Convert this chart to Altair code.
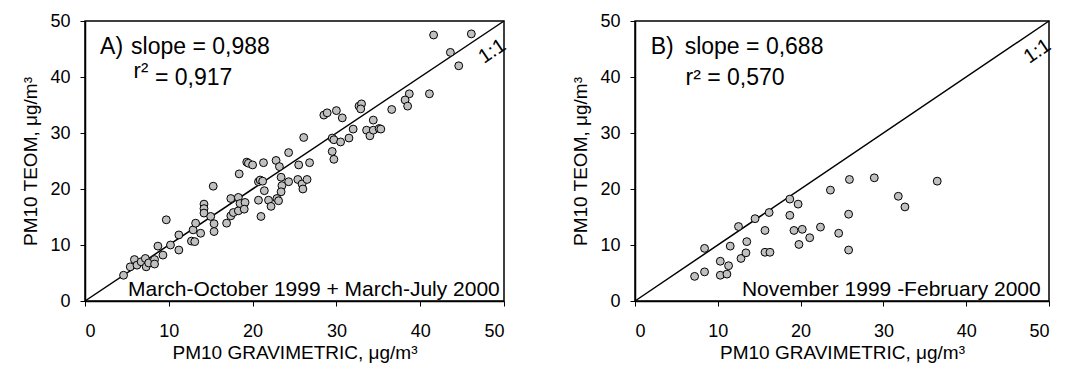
import altair as alt
import pandas as pd

# Panel A: March-October 1999 + March-July 2000
a_x = [4.6, 5.4, 5.9, 6.2, 6.7, 7.2, 7.3, 7.6, 8.3, 8.3, 8.7, 9.3, 9.7, 10.2, 11.2, 11.2,
       12.7, 13.1, 12.9, 13.2, 13.8, 14.2, 14.2, 14.2, 15.0, 15.4, 15.4, 15.3, 16.9, 17.4,
       17.4, 17.7, 18.3, 18.3, 18.4, 18.5, 19.1, 19.0, 19.3, 19.5, 20.0, 21.3, 22.8, 23.2,
       24.3, 26.1, 25.5, 26.8, 20.7, 20.9, 21.2, 21.4, 23.4, 23.5, 23.4, 24.3, 25.4, 25.9,
       26.0, 26.5, 20.7, 21.0, 21.9, 22.2, 22.9, 23.1,
       28.5, 28.9, 30.0, 30.7, 32.7, 33.0, 32.9, 29.5, 29.7, 30.5, 31.5, 32.0, 29.5, 29.7,
       33.6, 34.0, 34.4, 34.4, 35.1, 41.6, 46.1, 43.6, 44.6, 41.1, 38.7, 38.2, 38.5, 36.6, 35.3]
a_y = [4.6, 6.1, 7.4, 6.4, 7.0, 7.6, 6.1, 6.8, 7.4, 6.6, 9.8, 8.2, 14.5, 10.0, 9.1, 11.8,
       10.7, 10.6, 12.7, 13.9, 12.1, 17.3, 16.5, 15.7, 15.1, 13.8, 12.4, 20.5, 13.9, 15.2,
       18.3, 15.8, 16.1, 18.5, 22.7, 17.4, 17.6, 16.4, 24.8, 24.6, 24.3, 24.7, 25.1, 24.0,
       26.5, 29.2, 24.3, 24.7, 21.3, 21.6, 21.4, 19.7, 22.1, 20.6, 19.5, 21.3, 21.7, 20.9,
       20.0, 21.7, 18.0, 15.1, 18.0, 16.9, 18.3, 17.9,
       33.2, 33.6, 34.0, 32.7, 34.8, 35.2, 34.3, 29.1, 28.8, 28.4, 29.1, 30.7, 26.7, 25.3,
       30.5, 29.5, 30.5, 32.3, 30.8, 47.5, 47.7, 44.4, 42.0, 37.0, 37.0, 35.9, 34.8, 34.2, 30.7]

# Panel B: November 1999 - February 2000
b_x = [7.2, 8.4, 8.4, 10.3, 11.1, 10.3, 11.3, 11.5, 12.5, 12.8, 13.4, 13.5, 14.5, 15.7, 15.7,
       16.3, 16.2, 18.7, 18.7, 19.7, 19.2, 20.2, 19.8, 21.1, 22.4, 23.6, 24.6, 25.9, 25.8,
       25.8, 28.9, 31.8, 32.6, 36.5]
b_y = [4.4, 5.2, 9.4, 4.6, 4.8, 7.1, 6.3, 9.8, 13.3, 7.6, 8.6, 10.6, 14.7, 12.6, 8.7,
       8.7, 15.8, 18.2, 15.3, 17.3, 12.6, 12.8, 10.1, 11.3, 13.2, 19.8, 12.1, 21.7, 15.5,
       9.1, 22.0, 18.7, 16.8, 21.4]

ref_line = [0, 50]
ticks = [0, 10, 20, 30, 40, 50]

FONT = "Liberation Sans"
X_TITLE = "PM10 GRAVIMETRIC, μg/m³"
Y_TITLE = "PM10 TEOM, μg/m³"


def txt(s, x, y, size, align="left", angle=0):
    kw = dict(text=s, align=align, baseline="alphabetic", fontSize=size,
              font=FONT, color="black")
    if angle:
        kw["angle"] = angle
        kw["baseline"] = "middle"
    return alt.Chart(alt.Data(values=[{}])).mark_text(**kw).encode(
        x=alt.datum(x), y=alt.datum(y))


def panel(xs, ys, w, h, annotations):
    xsc = alt.Scale(domain=[0, 50], nice=False)
    ysc = alt.Scale(domain=[0, 50], nice=False)
    xax = alt.Axis(values=ticks, title=X_TITLE, labelPadding=16, titlePadding=3)
    yax = alt.Axis(values=ticks, title=Y_TITLE, labelPadding=10, titlePadding=9)
    line = alt.Chart(pd.DataFrame({"x": ref_line, "y": ref_line})).mark_line(
        color="black", strokeWidth=1.5).encode(
        x=alt.X("x:Q", scale=xsc, axis=xax),
        y=alt.Y("y:Q", scale=ysc, axis=yax))
    pts = alt.Chart(pd.DataFrame({"x": xs, "y": ys})).mark_circle(
        color="#c0c0c0", stroke="black", strokeWidth=1, size=62, opacity=1).encode(
        x="x:Q", y="y:Q")
    return alt.layer(line, pts, *annotations).properties(width=w, height=h)


left = panel(a_x, a_y, 419, 280, [
    txt("A)", 1.8, 44.1, 23),
    txt("slope = 0,988", 5.5, 44.1, 23),
    txt("r²", 5.8, 39.9, 22),
    txt("= 0,917", 8.35, 38.6, 23),
    txt("March-October 1999 + March-July 2000", 49.5, 0.95, 21, align="right"),
    txt("1:1", 48.6, 44.6, 20, align="center", angle=326),
])

right = panel(b_x, b_y, 414, 280, [
    txt("B)", 1.9, 44.1, 23),
    txt("slope = 0,688", 6.0, 44.1, 23),
    txt("r² = 0,570", 6.1, 38.6, 23),
    txt("November 1999 -February 2000", 49.0, 0.93, 21, align="right"),
    txt("1:1", 48.6, 44.6, 20, align="center", angle=326),
])

chart = alt.hconcat(left, right, spacing=60).properties(
    padding={"left": 21, "top": 11, "right": 0, "bottom": 0},
    background="white",
).configure_axis(
    domainColor="black", tickColor="black", labelColor="black", titleColor="black",
    grid=False, tickSize=5, tickWidth=1, domainWidth=1.5,
    labelFont=FONT, titleFont=FONT, labelFontSize=18, titleFontSize=19,
    titleFontWeight="normal",
).configure_view(stroke="black", strokeWidth=1.5)

chart.save("out.html", embed_options={"renderer": "svg", "actions": False})
